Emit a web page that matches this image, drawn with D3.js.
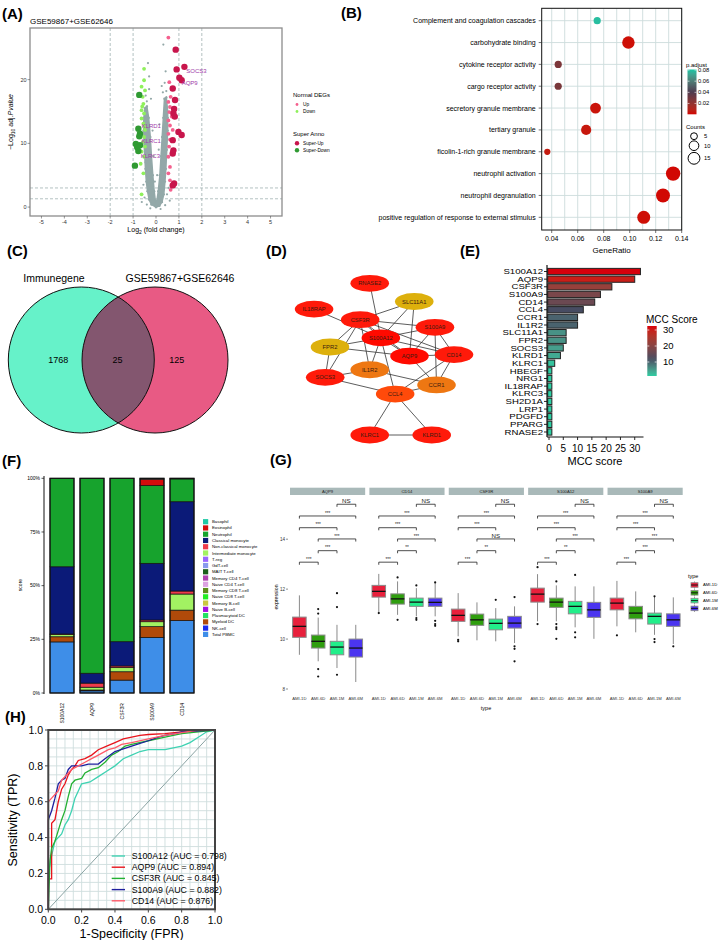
<!DOCTYPE html>
<html><head><meta charset="utf-8">
<script src="https://cdn.jsdelivr.net/npm/d3@7"></script>
<style>body{margin:0;background:#fff} svg{display:block} text{font-family:"Liberation Sans",Arial,sans-serif}</style>
</head><body><svg id="c" width="720" height="940"></svg>
<script>
// ================= DATA =================
// Panel A – volcano
const volcanoTitle = "GSE59867+GSE62646";
const volcanoXTicks = [-5,-4,-3,-2,-1,0,1,2,3,4,5];
const volcanoYTicks = [0,10,20];
const fcLines = [-2,-1,1,2];
const padjLines = [1.3,3];
const grayLeftArm = [[0,0],[-0.2,0.4],[-0.3,1.2],[-0.37,2.5],[-0.42,4],[-0.46,6],[-0.49,8],[-0.52,10],[-0.54,12],[-0.53,14],[-0.48,15.5],[-0.4,15.8],[-0.32,14],[-0.25,11],[-0.2,8],[-0.14,5],[-0.08,2.5],[-0.03,1],[0,0.3]];
const grayRightArm = [[0,0.3],[0.04,1],[0.1,2.5],[0.17,5],[0.22,8],[0.27,11],[0.32,14],[0.37,17],[0.45,17.2],[0.51,15],[0.51,12],[0.47,9],[0.43,6],[0.39,4],[0.34,2],[0.26,0.8],[0.15,0.2],[0,0]];
const grayPoints = [[-0.35,22.6],[-0.3,20.5],[-0.45,17.5],[-0.4,16.6],[0.32,25.5],[0.42,21.3],[0.38,19.5],[0.45,18.2],[0.25,19],[-0.22,17],[0.55,3],[-0.55,3.5],[0.48,2],[-0.5,1.5],[0.6,1],[-0.62,0.8],[0.2,-0.3],[-0.25,-0.2],[0.4,0.3],[-0.4,0.4],[-0.3,18.5],[0.3,18],[-0.55,13],[0.52,14],[-0.46,7],[0.44,8],[-0.15,12],[0.15,13],[-0.1,8],[0.12,9],[0.05,5],[-0.05,4]];
const downPoints = [[-0.52,21.7],[-0.52,19.9],[-0.63,18.9],[-0.48,18.3],[-0.58,17.3],[-0.55,16.2],[-0.63,15.2],[-0.52,14.7],[-0.63,13.9],[-0.55,13.1],[-0.48,12.1],[-0.63,11.5],[-0.52,11.0],[-0.58,10.2],[-0.48,9.5],[-0.63,8.7],[-0.52,7.9],[-0.67,6.8],[-0.55,5.3],[-0.63,2.0],[-0.6,15.8],[-0.5,12.6]];
const superDownPoints = [[-0.73,17.6],[-0.77,12.3],[-0.70,11.5],[-0.73,11.1],[-0.88,9.9],[-0.70,9.7],[-0.82,9.4],[-0.77,8.8],[-0.92,6.5]];
const upPoints = [[0.54,26.6],[0.76,18.6],[0.64,17.3],[0.54,16.5],[0.61,15.7],[0.58,14.9],[0.69,14.2],[0.54,13.6],[0.61,12.8],[0.73,12.1],[0.54,11.5],[0.61,10.6],[0.57,9.5],[0.73,8.7],[0.54,7.9],[0.61,6.3],[0.54,5.3],[0.61,4.2],[0.64,2.7],[0.58,19.6]];
const superUpPoints = [[0.86,24.7],[1.24,22.0],[0.9,21.6],[1.02,20.3],[1.12,19.9],[0.73,18.6],[0.83,16.8],[0.79,15.4],[0.76,14.7],[0.82,14.2],[0.98,11.8],[1.12,11.3],[0.73,10.5],[0.76,8.9],[0.73,8.4],[0.79,3.7],[0.73,3.4]];
const volcanoLabels = ["SOCS3","AQP9","KLRD1","KLRC1","KLRC3"];
const volcanoLabelX = [1.32,1.12,-0.63,-0.63,-0.67];
const volcanoLabelY = [21.4,19.5,12.8,10.4,8.0];

// Panel B – enrichment
const goTerms = ["Complement and coagulation cascades","carbohydrate binding","cytokine receptor activity","cargo receptor activity","secretory granule membrane","tertiary granule","ficolin-1-rich granule membrane","neutrophil activation","neutrophil degranulation","positive regulation of response to external stimulus"];
const goRatio = [0.075,0.099,0.045,0.045,0.0737,0.0665,0.0366,0.1334,0.1256,0.1108];
const goPadj = [0.079,0.002,0.027,0.028,0.003,0.004,0.005,0.001,0.001,0.002];
const goCount = [4,12,4,4,9,8,3,16,15,13];
const ratioTicks = [0.04,0.06,0.08,0.10,0.12,0.14];
const padjTicks = [0.02,0.04,0.06,0.08];
const countTicks = [5,10,15];

// Panel C – Venn
const vennNames = ["Immunegene","GSE59867+GSE62646"];
const vennCounts = [1768,25,125];

// Panel D – network
const netNodes = ["RNASE2","SLC11A1","IL18RAP","CSF3R","S100A9","S100A12","FPR2","AQP9","CD14","IL1R2","SOCS3","CCR1","CCL4","KLRC1","KLRD1"];
const netColors = ["#ff1a0a","#ddb00c","#ff1a0a","#ff1a0a","#ff1a0a","#ff0a00","#ddb00c","#ff0a00","#ff1a0a","#ee7712","#ff1a0a","#ee7712","#ff4a0a","#ff1a0a","#ff1a0a"];
const netEdges = [["RNASE2","S100A12"],["IL18RAP","S100A12"],["SLC11A1","CSF3R"],["SLC11A1","S100A12"],["SLC11A1","AQP9"],["CSF3R","S100A9"],["CSF3R","S100A12"],["CSF3R","FPR2"],["CSF3R","SOCS3"],["CSF3R","IL1R2"],["CSF3R","AQP9"],["CSF3R","CD14"],["S100A12","S100A9"],["S100A12","FPR2"],["S100A12","AQP9"],["S100A12","CD14"],["S100A12","IL1R2"],["S100A12","CCL4"],["FPR2","SOCS3"],["FPR2","AQP9"],["S100A9","AQP9"],["S100A9","CD14"],["S100A9","CCR1"],["AQP9","CCR1"],["AQP9","CD14"],["CD14","CCR1"],["CD14","CCL4"],["IL1R2","SOCS3"],["IL1R2","CCR1"],["SOCS3","CCL4"],["CCL4","CCR1"],["CCL4","KLRC1"],["CCL4","KLRD1"],["KLRC1","KLRD1"]];

// Panel E – MCC
const mccGenes = ["S100A12","AQP9","CSF3R","S100A9","CD14","CCL4","CCR1","IL1R2","SLC11A1","FPR2","SOCS3","KLRD1","KLRC1","HBEGF","NRG1","IL18RAP","KLRC3","SH2D1A","LRP1","PDGFD","PPARG","RNASE2"];
const mccScores = [32,30,22,18,16,12,10,10,6,6,5,4,2,1,1,1,1,1,1,1,1,1];
const mccTicks = [0,5,10,15,20,25,30];
const mccLegendTicks = [10,20,30];

// Panel F – cell type scores
const cellTypes = ["Basophil","Eosinophil","Neutrophil","Classical monocyte","Non-classical monocyte","Intermediate monocyte","T-reg","GdT-cell","MAIT T-cell","Memory CD4 T-cell","Naive CD4 T-cell","Memory CD8 T-cell","Naive CD8 T-cell","Memory B-cell","Naive B-cell","Plasmacytoid DC","Myeloid DC","NK-cell","Total PBMC"];
const cellColors = ["#1fc9a6","#d40c0c","#17a32d","#0b1a78","#ef3b4b","#a2f262","#9a66ff","#8a9aee","#1b5e1b","#b040b0","#dda2e2","#5c8c1a","#22ee22","#c9c940","#a312e2","#22e264","#b04a0a","#1a2aee","#3e8ee8"];
const genesF = ["S100A12","AQP9","CSF3R","S100A9","CD14"];
const fracS100A12 = [0,0,41.2,31.3,0.3,1.0,0,0,0,0,0,0,0,0,0,0,2.4,0,23.8];
const fracAQP9    = [0,0,90.8,4.6,1.9,1.3,0,0,0,0,0,0,0,0,0,0,0.4,0,1.0];
const fracCSF3R   = [0,0,76.1,11.3,0.8,1.9,0,0,0,0,0,0,0,0,0,0,3.9,0,6.0];
const fracS100A9  = [0.4,3.0,36.2,26.4,0.8,2.3,0,0,0,0,0,0,0,0,0,0,5.0,0,25.9];
const fracCD14    = [0,0.3,10.6,41.6,1.4,7.5,0,0,0,0,0,0,0,0,0,0,4.9,0,33.7];
const scoreTicks = [0,25,50,75,100];

// Panel G – expression boxplots  [lower whisker, Q1, median, Q3, upper whisker]
const boxGenes = ["AQP9","CD14","CSF3R","S100A12","S100A9"];
const groups = ["AMI-1D","AMI-6D","AMI-1M","AMI-6M"];
const groupColors = ["#e8203c","#2f9e0e","#22ee8a","#4b35f0"];
const boxAQP9 = [[9.37,10.07,10.51,10.88,11.75],[9.11,9.64,9.91,10.16,10.86],[8.84,9.37,9.68,9.91,10.57],[8.28,9.28,9.64,10.0,10.57]];
const outAQP9 = [[],[11.2,11.02,8.8,8.5],[11.84,11.28,8.57],[]];
const boxCD14 = [[11.04,11.68,11.91,12.15,12.61],[10.97,11.4,11.61,11.81,12.31],[10.91,11.31,11.48,11.64,12.04],[10.91,11.31,11.47,11.64,12.24]];
const outCD14 = [[11.04],[12.47,10.77],[12.15,10.84,10.77],[12.27,10.73,10.6,10.53]];
const boxCSF3R = [[10.11,10.71,10.95,11.2,11.84],[9.95,10.55,10.77,11.0,11.47],[9.91,10.37,10.63,10.8,11.24],[9.84,10.44,10.64,10.91,11.31]];
const outCSF3R = [[9.97,9.91],[],[11.57],[11.68,9.71,9.61,9.11]];
const boxS100A12 = [[10.71,11.48,11.8,12.04,12.6],[10.71,11.27,11.48,11.64,12.15],[10.47,11.01,11.31,11.51,12.11],[10.01,10.87,11.17,11.47,12.11]];
const outS100A12 = [[12.88,10.6],[12.31,10.6,10.47,10.4,10.01],[12.57,10.27,10.07],[]];
const boxS100A9 = [[10.51,11.17,11.44,11.64,12.33],[10.27,10.81,11.04,11.31,11.91],[10.17,10.6,10.91,11.04,11.71],[9.8,10.51,10.77,11.01,11.67]];
const outS100A9 = [[10.15],[],[11.71,10.0,9.88],[9.71]];
const exprTicks = [8,10,12,14];
const sigPairs = [[2,3],[0,3],[0,2],[1,3],[1,2],[0,1]];
const sigLevels = [15.4,14.93,14.46,14.01,13.54,13.08];
const sigAQP9 = ["NS","***","***","***","***","***"];
const sigCD14 = ["NS","***","***","***","**","***"];
const sigCSF3R = ["NS","***","***","NS","**","***"];
const sigS100A12 = ["NS","***","***","***","**","***"];
const sigS100A9 = ["NS","***","***","***","***","***"];

// Panel H – ROC
const rocNames = ["S100A12","AQP9","CSF3R","S100A9","CD14"];
const rocAUC = ["0.798","0.894","0.845","0.882","0.876"];
const rocColors = ["#3fd2b2","#e8141c","#23b133","#1f209e","#ff5a68"];
const rocS100A12 = [[0,0],[0,0.2],[0.02,0.3],[0.04,0.38],[0.08,0.42],[0.1,0.47],[0.12,0.5],[0.14,0.55],[0.16,0.62],[0.18,0.66],[0.2,0.7],[0.25,0.71],[0.3,0.74],[0.35,0.77],[0.4,0.8],[0.45,0.84],[0.5,0.86],[0.55,0.88],[0.6,0.89],[0.7,0.89],[0.8,0.91],[0.85,0.93],[0.9,0.96],[0.95,0.99],[1,1]];
const rocAQP9 = [[0,0],[0,0.17],[0.02,0.17],[0.02,0.48],[0.04,0.5],[0.06,0.6],[0.08,0.67],[0.1,0.7],[0.12,0.75],[0.14,0.78],[0.16,0.8],[0.18,0.83],[0.22,0.84],[0.26,0.86],[0.3,0.89],[0.35,0.91],[0.4,0.93],[0.45,0.95],[0.5,0.96],[0.55,0.97],[0.6,0.975],[0.7,0.98],[0.8,0.99],[0.9,0.995],[1,1]];
const rocCSF3R = [[0,0],[0.01,0.27],[0.02,0.34],[0.04,0.38],[0.06,0.44],[0.08,0.5],[0.1,0.55],[0.12,0.63],[0.14,0.7],[0.16,0.72],[0.2,0.73],[0.22,0.76],[0.26,0.78],[0.3,0.79],[0.34,0.82],[0.38,0.86],[0.42,0.88],[0.46,0.91],[0.5,0.92],[0.6,0.94],[0.7,0.96],[0.8,0.98],[0.9,0.99],[1,1]];
const rocS100A9 = [[0,0],[0,0.5],[0.02,0.55],[0.04,0.62],[0.06,0.7],[0.08,0.72],[0.1,0.73],[0.12,0.78],[0.14,0.8],[0.2,0.8],[0.24,0.81],[0.3,0.81],[0.34,0.84],[0.4,0.88],[0.5,0.91],[0.6,0.94],[0.66,0.96],[0.7,0.97],[0.76,0.98],[0.8,0.99],[0.9,0.995],[1,1]];
const rocCD14 = [[0,0],[0,0.6],[0.02,0.62],[0.04,0.64],[0.06,0.66],[0.08,0.72],[0.1,0.74],[0.12,0.76],[0.14,0.78],[0.18,0.8],[0.22,0.82],[0.26,0.84],[0.3,0.86],[0.36,0.89],[0.4,0.9],[0.44,0.92],[0.5,0.93],[0.6,0.95],[0.7,0.97],[0.8,0.985],[0.9,1],[1,1]];
const rocTicks = [0,0.2,0.4,0.6,0.8,1.0];

// ================= RENDER =================
const svg = d3.select("#c");
svg.append("rect").attr("width",720).attr("height",940).attr("fill","#fff");
const defs = svg.append("defs");

function T(p, x, y, s, size, o = {}) {
  const t = p.append("text").attr("x", x).attr("y", y).attr("font-size", size).text(s);
  t.attr("text-anchor", o.anchor || "start").attr("fill", o.fill || "#000");
  if (o.weight) t.attr("font-weight", o.weight);
  if (o.mid) t.attr("dy", "0.35em");
  if (o.rot) t.attr("transform", `rotate(${o.rot},${x},${y})`);
  if (o.style) t.attr("font-style", o.style);
  return t;
}
function L(p, x1, y1, x2, y2, c, w, dash) {
  const l = p.append("line").attr("x1",x1).attr("y1",y1).attr("x2",x2).attr("y2",y2).attr("stroke",c).attr("stroke-width",w);
  if (dash) l.attr("stroke-dasharray",dash);
  return l;
}

// panel labels
[["(A)",2,19],["(B)",341,18],["(C)",7,256],["(D)",266,256],["(E)",460,256],["(F)",2,466],["(G)",270,465],["(H)",5,722]].forEach(d =>
  T(svg, d[1], d[2], d[0], 15, {weight:"bold"}));

// ---------- Panel A ----------
{
  const g = svg.append("g");
  const ax = d3.scaleLinear().domain([-5.5,5.5]).range([30,282]);
  const ay = d3.scaleLinear().domain([-1.4,28.1]).range([216,28]);
  g.append("rect").attr("x",30).attr("y",28).attr("width",252).attr("height",188).attr("fill","#fff");
  fcLines.forEach(v => L(g, ax(v), 28, ax(v), 216, "#9fb1b1", 0.8, "3,2"));
  padjLines.forEach(v => L(g, 30, ay(v), 282, ay(v), "#9fb1b1", 0.8, "3,2"));
  const line = d3.line().x(d => ax(d[0])).y(d => ay(d[1]));
  [grayLeftArm, grayRightArm].forEach(arm => g.append("path").attr("d", line(arm) + "Z").attr("fill","#93a8a8").attr("stroke","#93a8a8").attr("stroke-width",1.5));
  const dots = (arr, r, c) => g.selectAll(null).data(arr).enter().append("circle")
    .attr("cx", d => ax(d[0])).attr("cy", d => ay(d[1])).attr("r", r).attr("fill", c);
  dots(grayPoints, 1.1, "#93a8a8");
  dots(grayLeftArm, 1.2, "#93a8a8");
  dots(grayRightArm, 1.2, "#93a8a8");
  dots(downPoints, 1.9, "#8ff05c");
  dots(upPoints, 1.9, "#f5608e");
  dots(superDownPoints, 3.2, "#2f9a32");
  dots(superUpPoints, 3.2, "#c8154c");
  volcanoLabels.forEach((s,i) => T(g, ax(volcanoLabelX[i]), ay(volcanoLabelY[i]), s, 6, {fill:"#a03aa8", mid:true}));
  g.append("rect").attr("x",30).attr("y",28).attr("width",252).attr("height",188).attr("fill","none").attr("stroke","#8c8c8c").attr("stroke-width",1.3);
  volcanoXTicks.forEach(v => { L(g, ax(v), 216, ax(v), 218.5, "#555", 0.6); T(g, ax(v), 224, v, 5.5, {anchor:"middle", fill:"#333"}); });
  volcanoYTicks.forEach(v => { L(g, 27.5, ay(v), 30, ay(v), "#555", 0.6); T(g, 26.5, ay(v), v, 5.5, {anchor:"end", fill:"#333", mid:true}); });
  T(g, 30, 24, volcanoTitle, 8);
  const xt = T(g, 156, 232, "", 7, {anchor:"middle"});
  xt.append("tspan").text("Log");
  xt.append("tspan").attr("font-size",5).attr("dy",1.5).text("2");
  xt.append("tspan").attr("dy",-1.5).text(" (fold change)");
  const yt = g.append("text").attr("transform","translate(13,122) rotate(-90)").attr("text-anchor","middle").attr("font-size",7);
  yt.append("tspan").text("\u2212Log");
  yt.append("tspan").attr("font-size",5).attr("dy",1.5).text("10");
  yt.append("tspan").attr("dy",-1.5).text(" adj.");
  yt.append("tspan").attr("font-style","italic").text("Pvalue");
  // legend
  T(g, 293, 97, "Normal DEGs", 6);
  g.append("circle").attr("cx",297).attr("cy",104.5).attr("r",1.4).attr("fill","#f5608e");
  T(g, 303, 104.5, "Up", 4.8, {mid:true});
  g.append("circle").attr("cx",297).attr("cy",111.5).attr("r",1.4).attr("fill","#8ff05c");
  T(g, 303, 111.5, "Down", 4.8, {mid:true});
  T(g, 293, 135.5, "Super Anno", 6);
  g.append("circle").attr("cx",297).attr("cy",143.3).attr("r",2.2).attr("fill","#c8154c");
  T(g, 303, 143.3, "Super-Up", 4.8, {mid:true});
  g.append("circle").attr("cx",297).attr("cy",150.3).attr("r",2.2).attr("fill","#2f9a32");
  T(g, 303, 150.3, "Super-Down", 4.8, {mid:true});
}

// ---------- Panel B ----------
{
  const g = svg.append("g");
  const x0 = 541.7, x1 = 681.7, y0 = 8.3, y1 = 230;
  const bx = d3.scaleLinear().domain([0.0323,0.14]).range([x0,x1]);
  const by = d3.scalePoint().domain(goTerms).range([20.7,217.3]);
  const padjColor = d3.scaleLinear().domain([0,0.04,0.08]).range(["#d40000","#4d3a4e","#22c2a2"]).interpolate(d3.interpolateLab);
  const size = d3.scaleSqrt().domain([0,16]).range([0,7.2]);
  g.append("rect").attr("x",x0).attr("y",y0).attr("width",x1-x0).attr("height",y1-y0).attr("fill","#fff");
  d3.range(0.04,0.1401,0.01).forEach(v => L(g, bx(v), y0, bx(v), y1, "#cddcdc", 0.9));
  goTerms.forEach(t => L(g, x0, by(t), x1, by(t), "#cddcdc", 0.9));
  g.selectAll(null).data(goTerms).enter().append("circle")
    .attr("cx", (d,i) => bx(goRatio[i])).attr("cy", d => by(d))
    .attr("r", (d,i) => size(goCount[i])).attr("fill", (d,i) => padjColor(goPadj[i]));
  g.append("rect").attr("x",x0).attr("y",y0).attr("width",x1-x0).attr("height",y1-y0).attr("fill","none").attr("stroke","#111").attr("stroke-width",1);
  goTerms.forEach(t => { L(g, x0-3, by(t), x0, by(t), "#333", 0.7); T(g, x0-6, by(t), t, 7, {anchor:"end", mid:true}); });
  ratioTicks.forEach(v => { L(g, bx(v), y1, bx(v), y1+3, "#333", 0.7); T(g, bx(v), 241, v.toFixed(2), 7, {anchor:"middle"}); });
  T(g, (x0+x1)/2, 253, "GeneRatio", 8, {anchor:"middle"});
  // colorbar
  const cy = d3.scaleLinear().domain([0.0005,0.081]).range([114.3,69.5]);
  const grad = defs.append("linearGradient").attr("id","gPadj").attr("x1",0).attr("x2",0).attr("y1",1).attr("y2",0);
  d3.range(0,1.0001,0.1).forEach(t => grad.append("stop").attr("offset",t).attr("stop-color", padjColor(0.0005 + t*(0.081-0.0005))));
  T(g, 686, 67, "p.adjust", 6);
  g.append("rect").attr("x",687.5).attr("y",69.5).attr("width",9).attr("height",44.8).attr("fill","url(#gPadj)");
  padjTicks.forEach(v => { L(g, 687.5, cy(v), 689.5, cy(v), "#fff", 0.6); L(g, 694.5, cy(v), 696.5, cy(v), "#fff", 0.6); T(g, 698, cy(v), v.toFixed(2), 5.8, {mid:true}); });
  T(g, 686, 129, "Counts", 6);
  const cpos = [136.2,145.7,158.3];
  countTicks.forEach((v,i) => { g.append("circle").attr("cx",694).attr("cy",cpos[i]).attr("r",size(v)*0.85).attr("fill","none").attr("stroke","#000").attr("stroke-width",1);
    T(g, 704, cpos[i], v, 5.8, {mid:true}); });
}

// ---------- Panel C ----------
{
  const g = svg.append("g");
  const cx = [81.3,155], cyv = 360, r = 73;
  defs.append("clipPath").attr("id","clipL").append("circle").attr("cx",cx[0]).attr("cy",cyv).attr("r",r);
  g.append("circle").attr("cx",cx[0]).attr("cy",cyv).attr("r",r).attr("fill","#66f2c9");
  g.append("circle").attr("cx",cx[1]).attr("cy",cyv).attr("r",r).attr("fill","#e85a84");
  g.append("circle").attr("cx",cx[1]).attr("cy",cyv).attr("r",r).attr("fill","#83566f").attr("clip-path","url(#clipL)");
  cx.forEach(c => g.append("circle").attr("cx",c).attr("cy",cyv).attr("r",r).attr("fill","none").attr("stroke","#111").attr("stroke-width",1));
  T(g, 54, 282, vennNames[0], 10.5, {anchor:"middle"});
  T(g, 180, 282, vennNames[1], 10.5, {anchor:"middle"});
  T(g, 58.3, 359.5, vennCounts[0], 9, {anchor:"middle", mid:true});
  T(g, 117.5, 359.5, vennCounts[1], 9, {anchor:"middle", mid:true});
  T(g, 176.7, 359.5, vennCounts[2], 9, {anchor:"middle", mid:true});
}

// ---------- Panel D ----------
{
  const g = svg.append("g");
  // layout (normalised positions mapped onto the panel)
  const layoutX = [0.47,0.75,0.12,0.41,0.88,0.54,0.22,0.72,1.0,0.47,0.19,0.89,0.63,0.47,0.86];
  const layoutY = [0.0,0.12,0.17,0.24,0.29,0.36,0.42,0.48,0.47,0.57,0.62,0.67,0.73,1.0,1.0];
  const nx = d3.scaleLinear().domain([0,1]).range([295,454]);
  const ny = d3.scaleLinear().domain([0,1]).range([283.3,435]);
  const pos = {};
  netNodes.forEach((n,i) => pos[n] = [nx(layoutX[i]), ny(layoutY[i])]);
  netEdges.forEach(e => L(g, pos[e[0]][0], pos[e[0]][1], pos[e[1]][0], pos[e[1]][1], "#333", 0.8));
  netNodes.forEach((n,i) => {
    g.append("ellipse").attr("cx",pos[n][0]).attr("cy",pos[n][1]).attr("rx",19.3).attr("ry",8.4).attr("fill",netColors[i]);
    T(g, pos[n][0], pos[n][1], n, 5.8, {anchor:"middle", mid:true, fill:"#3a1a10"});
  });
}

// ---------- Panel E ----------
{
  const g = svg.append("g");
  const ex = d3.scaleLinear().domain([0,33]).range([549,643.3]);
  const ey = d3.scaleBand().domain(mccGenes).range([267,436.5]).padding(0.18);
  const mccColor = d3.scaleLinear().domain([1,12,32]).range(["#2bd0a4","#474c62","#d6000c"]).interpolate(d3.interpolateLab);
  g.selectAll(null).data(mccGenes).enter().append("rect")
    .attr("x", ex(0)-1.3).attr("y", d => ey(d)).attr("height", ey.bandwidth())
    .attr("width", (d,i) => ex(mccScores[i]) - ex(0) + 1.3)
    .attr("fill", (d,i) => mccColor(mccScores[i])).attr("stroke","#222").attr("stroke-width",1);
  L(g, 547, 265, 547, 437, "#111", 1.2);
  L(g, 547, 437, 643.5, 437, "#111", 1.2);
  mccGenes.forEach(d => {
    const y = ey(d) + ey.bandwidth()/2;
    L(g, 544, y, 547, y, "#111", 0.9);
    g.append("text").attr("transform", `translate(543,${y}) scale(1.3,1)`).attr("text-anchor","end").attr("dy","0.36em")
      .attr("font-size", 7.4).attr("fill","#000").text(d);
  });
  mccTicks.forEach(v => { L(g, ex(v), 437, ex(v), 440, "#111", 0.9); T(g, ex(v), 452, v, 10, {anchor:"middle"}); });
  T(g, 595, 465, "MCC score", 11, {anchor:"middle"});
  // legend
  const ly = d3.scaleLinear().domain([1.25,32.5]).range([376,326]);
  const grad = defs.append("linearGradient").attr("id","gMcc").attr("x1",0).attr("x2",0).attr("y1",1).attr("y2",0);
  d3.range(0,1.0001,0.1).forEach(t => grad.append("stop").attr("offset",t).attr("stop-color", mccColor(1.25 + t*(32.5-1.25))));
  T(g, 646, 323, "MCC Score", 10);
  g.append("rect").attr("x",647.3).attr("y",326).attr("width",9.4).attr("height",50).attr("fill","url(#gMcc)");
  mccLegendTicks.forEach(v => { L(g, 647.3, ly(v), 649.3, ly(v), "#fff", 0.7); L(g, 654.7, ly(v), 656.7, ly(v), "#fff", 0.7); T(g, 663, ly(v), v, 9.5, {mid:true}); });
}

// ---------- Panel F ----------
{
  const g = svg.append("g");
  const fx = d3.scaleBand().domain(genesF).range([47,197]).paddingInner(0.2).paddingOuter(0.1);
  const fy = d3.scaleLinear().domain([0,100]).range([693,478.3]);
  const fracs = [fracS100A12, fracAQP9, fracCSF3R, fracS100A9, fracCD14];
  const rows = genesF.map((gname,j) => { const o = {gene:gname}; cellTypes.forEach((c,i) => o[c] = fracs[j][i]); return o; });
  const stack = d3.stack().keys(cellTypes.slice().reverse())(rows);
  stack.forEach(layer => {
    const ci = cellTypes.indexOf(layer.key);
    layer.forEach(seg => {
      if (seg[1] - seg[0] <= 0) return;
      g.append("rect").attr("x", fx(seg.data.gene)).attr("width", fx.bandwidth())
        .attr("y", fy(seg[1])).attr("height", fy(seg[0]) - fy(seg[1]))
        .attr("fill", cellColors[ci]).attr("stroke","#111").attr("stroke-width",0.7);
    });
  });
  genesF.forEach(gname => g.append("rect").attr("x",fx(gname)).attr("y",fy(100)).attr("width",fx.bandwidth()).attr("height",fy(0)-fy(100)).attr("fill","none").attr("stroke","#111").attr("stroke-width",1.2));
  L(g, 44, 476, 44, 694, "#111", 1);
  scoreTicks.forEach(v => { L(g, 41.5, fy(v), 44, fy(v), "#111", 0.7); T(g, 40, fy(v), v + "%", 5, {anchor:"end", mid:true}); });
  T(g, 22, 585, "score", 5, {anchor:"middle", rot:-90});
  genesF.forEach(gname => T(g, fx(gname) + fx.bandwidth()/2 + 1.7, 703, gname, 5, {anchor:"end", rot:-90}));
  cellTypes.forEach((c,i) => {
    const y = 521.7 + i*6.26;
    g.append("rect").attr("x",203).attr("y",y-2.6).attr("width",5.2).attr("height",5.2).attr("fill",cellColors[i]);
    T(g, 212, y, c, 4.3, {mid:true});
  });
}

// ---------- Panel G ----------
{
  const g = svg.append("g");
  const facet = d3.scaleBand().domain(boxGenes).range([290,682.7]).paddingInner(0.053);
  const tx = d3.scaleBand().domain(groups).range([0,facet.bandwidth()]).paddingInner(0.28).paddingOuter(0.14);
  const gy = d3.scaleLinear().domain([7.84,15.77]).range([693,495]);
  const boxes = [boxAQP9, boxCD14, boxCSF3R, boxS100A12, boxS100A9];
  const outs = [outAQP9, outCD14, outCSF3R, outS100A12, outS100A9];
  const sigs = [sigAQP9, sigCD14, sigCSF3R, sigS100A12, sigS100A9];
  boxGenes.forEach((gene, k) => {
    const fx0 = facet(gene);
    g.append("rect").attr("x",fx0).attr("y",487.7).attr("width",facet.bandwidth()).attr("height",7.3).attr("fill","#a9b9b9");
    T(g, fx0 + facet.bandwidth()/2, 491.4, gene, 4.2, {anchor:"middle", mid:true, fill:"#222"});
    groups.forEach((grp, j) => {
      const b = boxes[k][j];
      const cx = fx0 + tx(grp) + tx.bandwidth()/2, w = tx.bandwidth();
      L(g, cx, gy(b[4]), cx, gy(b[3]), "#8a8a8a", 1);
      L(g, cx, gy(b[1]), cx, gy(b[0]), "#8a8a8a", 1);
      g.append("rect").attr("x",cx - w/2).attr("y",gy(b[3])).attr("width",w).attr("height",gy(b[1]) - gy(b[3]))
        .attr("fill",groupColors[j]).attr("stroke","#8a8a8a").attr("stroke-width",1);
      L(g, cx - w/2, gy(b[2]), cx + w/2, gy(b[2]), "#111", 1.3);
      outs[k][j].forEach(v => g.append("circle").attr("cx",cx).attr("cy",gy(v)).attr("r",1.1).attr("fill","#111"));
      T(g, cx, 700, grp, 4.2, {anchor:"middle", fill:"#333"});
    });
    sigPairs.forEach((pr, m) => {
      const xa = fx0 + tx(groups[pr[0]]) + tx.bandwidth()/2, xb = fx0 + tx(groups[pr[1]]) + tx.bandwidth()/2, yv = gy(sigLevels[m]);
      g.append("path").attr("d", `M${xa},${yv+2.6}V${yv}H${xb}V${yv+2.6}`).attr("fill","none").attr("stroke","#222").attr("stroke-width",0.8);
      const lab = sigs[k][m];
      T(g, (xa+xb)/2, yv - 1.3, lab, lab === "NS" ? 6.2 : 4.6, {anchor:"middle", fill:"#222"});
    });
  });
  exprTicks.forEach(v => { L(g, 286, gy(v), 288, gy(v), "#444", 0.6); T(g, 285, gy(v), v, 4.6, {anchor:"end", mid:true, fill:"#333"}); });
  T(g, 278, 597, "expression", 5.2, {anchor:"middle", rot:-90});
  T(g, 486, 710, "type", 5.5, {anchor:"middle"});
  T(g, 688, 578, "type", 5.5);
  groups.forEach((grp, j) => {
    const y = 585 + j*7.8;
    L(g, 694.5, y-3.6, 694.5, y+3.6, "#8a8a8a", 0.8);
    g.append("rect").attr("x",691).attr("y",y-2.3).attr("width",7).attr("height",4.6).attr("fill",groupColors[j]).attr("stroke","#8a8a8a").attr("stroke-width",0.8);
    L(g, 691, y, 698, y, "#111", 0.9);
    T(g, 703, y, grp, 4.2, {mid:true});
  });
}

// ---------- Panel H ----------
{
  const g = svg.append("g");
  const hx = d3.scaleLinear().domain([0,1]).range([48.3,215]);
  const hy = d3.scaleLinear().domain([0,1]).range([909.3,730]);
  g.append("rect").attr("x",48.3).attr("y",730).attr("width",166.7).attr("height",179.3).attr("fill","#fff");
  d3.range(0.05,1,0.05).forEach(v => { L(g, hx(v), 730, hx(v), 909.3, "#cfdede", 0.9); L(g, 48.3, hy(v), 215, hy(v), "#cfdede", 0.9); });
  L(g, hx(0), hy(0), hx(1), hy(1), "#8aa3a3", 1);
  const line = d3.line().x(d => hx(d[0])).y(d => hy(d[1]));
  const rocs = [rocS100A12, rocAQP9, rocCSF3R, rocS100A9, rocCD14];
  rocs.forEach((r,i) => g.append("path").attr("d", line(r)).attr("fill","none").attr("stroke",rocColors[i]).attr("stroke-width",1.3));
  g.append("rect").attr("x",48.3).attr("y",730).attr("width",166.7).attr("height",179.3).attr("fill","none").attr("stroke","#444").attr("stroke-width",2);
  rocTicks.forEach(v => {
    L(g, hx(v), 909.3, hx(v), 912.5, "#444", 1); T(g, hx(v), 924, v.toFixed(1), 10.5, {anchor:"middle"});
    L(g, 45, hy(v), 48.3, hy(v), "#444", 1); T(g, 43, hy(v), v.toFixed(1), 10.5, {anchor:"end", mid:true});
  });
  T(g, 131.7, 937.5, "1-Specificity (FPR)", 12.5, {anchor:"middle"});
  T(g, 17, 820, "Sensitivity (TPR)", 12.5, {anchor:"middle", rot:-90});
  rocNames.forEach((n,i) => {
    const y = 856 + i*11.2;
    L(g, 111.7, y, 125, y, rocColors[i], 1.4);
    T(g, 131.7, y, `${n} (AUC = ${rocAUC[i]})`, 8.8, {mid:true});
  });
}
</script></body></html>
